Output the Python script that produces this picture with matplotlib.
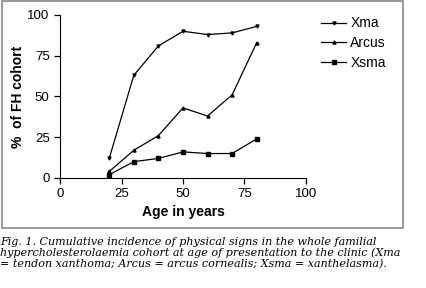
import matplotlib.pyplot as plt
from matplotlib.patches import Rectangle

# data
ages = [20, 30, 40, 50, 60, 70, 80]
xma = [12, 63, 81, 90, 88, 89, 93]
arcus = [4, 17, 26, 43, 38, 51, 83]
xsma = [2, 10, 12, 16, 15, 15, 24]

caption = ("Fig. 1. Cumulative incidence of physical signs in the whole familial\n"
           "hypercholesterolaemia cohort at age of presentation to the clinic (Xma\n"
           "= tendon xanthoma; Arcus = arcus cornealis; Xsma = xanthelasma).")

plt.rcParams['font.family'] = ['Liberation Sans', 'DejaVu Sans']

fig = plt.figure(figsize=(4.26, 2.88), dpi=100)
ax = fig.add_axes([0.141, 0.382, 0.577, 0.566])

ax.plot(ages, xma, color="black", lw=0.9, marker="v", ms=2.2, label="Xma")
ax.plot(ages, arcus, color="black", lw=0.9, marker="^", ms=2.2, label="Arcus")
ax.plot(ages, xsma, color="black", lw=0.9, marker="s", ms=2.8, label="Xsma")

ax.set_xlim(0, 100)
ax.set_ylim(0, 100)
ax.set_xticks([0, 25, 50, 75, 100])
ax.set_yticks([0, 25, 50, 75, 100])
ax.spines["top"].set_visible(False)
ax.spines["right"].set_visible(False)
ax.tick_params(direction="out", length=4, width=0.9, labelsize=9.5)
ax.set_xlabel("Age in years", fontsize=10, fontweight="bold", labelpad=3)
ax.set_ylabel("%  of FH cohort", fontsize=10, fontweight="bold", labelpad=2)

ax.legend(loc="upper left", bbox_to_anchor=(1.04, 1.025), frameon=False,
          fontsize=10, handlelength=1.8, handletextpad=0.3, labelspacing=0.4,
          borderaxespad=0)

# grey frame around the chart panel
fig.patches.append(Rectangle((0.005, 0.21), 0.94, 0.785, transform=fig.transFigure,
                             fill=False, edgecolor="#888888", lw=1.2))

fig.text(0.0, 0.176, caption, fontsize=8.0, style="italic", va="top", ha="left",
         family=["DejaVu Serif"], linespacing=1.05)

fig.savefig("out.png", dpi=100)
